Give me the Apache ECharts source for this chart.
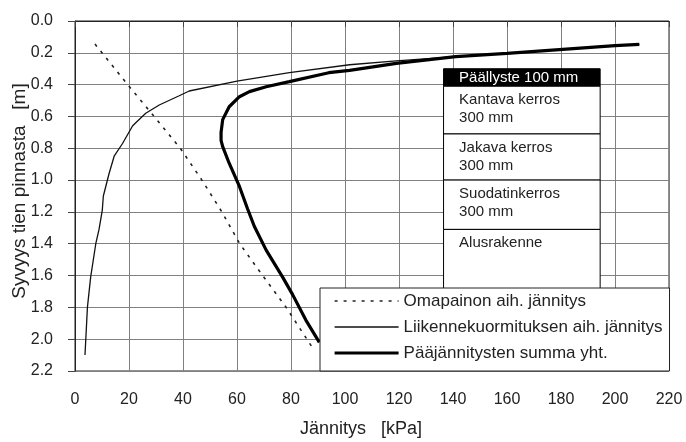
<!DOCTYPE html>
<html><head><meta charset="utf-8">
<script src="https://cdn.jsdelivr.net/npm/echarts@6/dist/echarts.min.js"></script>
<style>html,body{margin:0;padding:0;background:#fff}#c{width:686px;height:442px}</style>
</head><body><div id="c"></div>
<script>
// Omapainon aih. jännitys [kPa, depth m]
const selfWeight = [[7.4,0.145],[19.5,0.4],[29.3,0.6],[39,0.8],[47,1.0],[54.4,1.2],[61,1.4],[69.5,1.6],[78.2,1.8],[88,2.055]];
// Liikennekuormituksen aih. jännitys
const traffic = [[209,0.147],[200,0.155],[160,0.203],[141,0.224],[119,0.251],[101.7,0.275],[79.4,0.325],[60,0.378],[42.3,0.44],[38.6,0.47],[31.2,0.528],[26.2,0.58],[22.5,0.64],[21.3,0.66],[17.6,0.77],[14.5,0.85],[12.6,0.96],[10.5,1.1],[10.1,1.19],[8.9,1.31],[7.7,1.40],[5.8,1.61],[4.6,1.80],[3.7,2.10]];
// Pääjännitysten summa yht.
const total = [[209,0.147],[200,0.155],[160,0.203],[141,0.224],[119,0.266],[101.7,0.31],[94,0.325],[79.4,0.381],[70.8,0.413],[64.6,0.444],[60.9,0.476],[57.1,0.539],[54.7,0.62],[54.1,0.70],[54.1,0.75],[54.7,0.79],[57.1,0.894],[60.9,1.04],[63.9,1.18],[66.4,1.29],[70.8,1.44],[76.9,1.61],[80.6,1.72],[85.5,1.88],[90.5,2.02]];
const seriesNames = ['Omapainon aih. jännitys','Liikennekuormituksen aih. jännitys','Pääjännitysten summa yht.'];
// Rakennekerrokset: [nimi, yläraja m, alaraja m]
const layerX = [136.5, 194.5];
const layers = [['Päällyste 100 mm',0.3,0.41],['Kantava kerros\n300 mm',0.41,0.71],['Jakava kerros\n300 mm',0.71,1.0],['Suodatinkerros\n300 mm',1.0,1.31],['Alusrakenne',1.31,1.95]];
const xTicks = {min:0,max:220,interval:20};
const yTicks = {min:0,max:2.2,interval:0.2};

const font = 'Liberation Sans, Arial, sans-serif';
const chart = echarts.init(document.getElementById('c'));
const markData = layers.map((l,i)=>[
  {xAxis:layerX[0], yAxis:l[1], name:l[0],
   itemStyle:{color:i===0?'#000':'#fff', borderColor:'#000', borderWidth:1},
   label:i===0?{position:'insideLeft', color:'#fff', padding:[1,0,0,16], distance:0}:{position:'insideTopLeft', color:'#222', padding:[5,0,0,16], distance:0}},
  {xAxis:layerX[1], yAxis:l[2]}
]);
chart.setOption({
  animation:false,
  grid:{left:75,right:17,top:21,bottom:71,show:true,borderColor:'#222',borderWidth:1,outerBoundsMode:'none',containLabel:false},
  xAxis:{type:'value',min:xTicks.min,max:xTicks.max,interval:xTicks.interval,
    name:'Jännitys   [kPa]',nameLocation:'middle',nameGap:49,nameMoveOverlap:false,
    nameTextStyle:{fontFamily:font,fontSize:18,color:'#222',padding:[0,22,0,0]},
    axisLine:{show:true,lineStyle:{color:'#222'}},
    axisTick:{show:true,length:6,lineStyle:{color:'#444'}},
    axisLabel:{fontFamily:font,fontSize:16,color:'#222',margin:21},
    splitLine:{show:true,lineStyle:{color:'#808080',width:1}}},
  yAxis:{type:'value',inverse:true,min:yTicks.min,max:yTicks.max,interval:yTicks.interval,
    name:'Syvyys tien pinnasta   [m]',nameLocation:'middle',nameGap:46,nameMoveOverlap:false,
    nameTextStyle:{fontFamily:font,fontSize:19,color:'#222',padding:[0,0,0,10]},
    axisLine:{show:true,lineStyle:{color:'#222'}},
    axisTick:{show:true,length:7,lineStyle:{color:'#444'}},
    axisLabel:{fontFamily:font,fontSize:16,color:'#222',margin:22,formatter:v=>v.toFixed(1)},
    splitLine:{show:true,lineStyle:{color:'#808080',width:1}}},
  legend:{orient:'vertical',left:320,top:288,padding:[4,7,9,13],itemGap:8,
    itemWidth:64,itemHeight:14,backgroundColor:'#fff',borderColor:'#222',borderWidth:1,borderRadius:0,
    itemStyle:{opacity:0},
    textStyle:{fontFamily:font,fontSize:17,color:'#222',lineHeight:18},
    data:[
      {name:seriesNames[0],lineStyle:{width:1.6}},
      {name:seriesNames[1],lineStyle:{width:1.3}},
      {name:seriesNames[2],lineStyle:{width:3.2}}
    ]},
  series:[
    {type:'line',name:'layers',data:[],silent:true,
     markArea:{silent:true,label:{show:true,fontFamily:font,fontSize:15,lineHeight:18},data:markData}},
    {type:'line',name:seriesNames[0],data:selfWeight,symbol:'none',color:'#222',lineStyle:{color:'#222',width:1.6,type:[3,6]}},
    {type:'line',name:seriesNames[1],data:traffic,symbol:'none',color:'#111',lineStyle:{color:'#111',width:1.3}},
    {type:'line',name:seriesNames[2],data:total,symbol:'none',color:'#000',lineStyle:{color:'#000',width:3.2}}
  ]
});
</script></body></html>
